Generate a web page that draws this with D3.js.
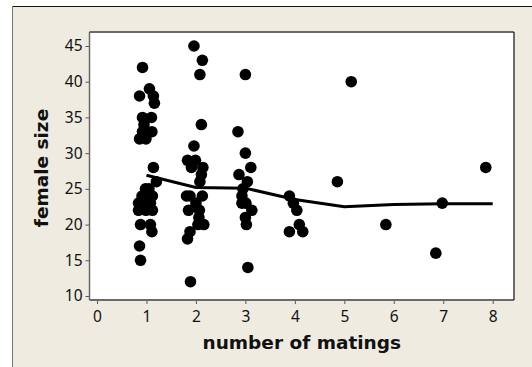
<!DOCTYPE html>
<html><head><meta charset="utf-8">
<script src="https://cdn.jsdelivr.net/npm/d3@7"></script>
<style>
html,body{margin:0;padding:0;background:#fff;}
svg{display:block;}
</style></head>
<body>
<script>
// ---- data ----
const matings = [
  0.92,0.86,1.06,1.14,1.16,0.92,1.10,0.95,0.92,1.11,0.86,0.99,
  1.14,1.20,0.98,1.05,0.91,1.12,0.84,0.98,1.08,0.84,0.99,1.12,0.88,1.08,1.11,0.86,0.88,
  1.96,2.13,2.08,2.11,1.96,1.83,1.99,1.91,2.14,2.11,2.08,1.81,1.88,2.13,2.00,1.85,2.07,2.06,2.04,2.16,1.88,1.83,1.89,
  3.00,2.85,3.00,3.11,2.87,3.04,2.95,2.93,2.93,3.01,3.13,3.00,3.02,3.05,
  3.89,3.97,4.04,4.09,3.89,4.16,
  4.86,5.14,
  5.84,
  6.85,6.98,
  7.86
];
const femaleSize = [
  42,38,39,38,37,35,35,34,33,33,32,32,
  28,26,25,25,24,24,23,23,23,22,22,22,20,20,19,17,15,
  45,43,41,34,31,29,29,28,28,27,26,24,24,24,23,22,22,21,20,20,19,18,12,
  41,33,30,28,27,26,25,24,23,23,22,21,20,14,
  24,23,22,20,19,19,
  26,40,
  20,
  16,23,
  28
];
const trendX = [1,2,3,4,5,6,7,8];
const trendY = [26.9,25.2,25.1,23.5,22.5,22.8,22.9,22.9];
const xTicks = [0,1,2,3,4,5,6,7,8];
const yTicks = [10,15,20,25,30,35,40,45];

// ---- layout ----
const W = 532, H = 367;
const frame = {left: 89.5, right: 514, top: 32, bottom: 300};

const svg = d3.select("body").append("svg").attr("width", W).attr("height", H);

// outer panel
svg.append("rect").attr("x",12).attr("y",6).attr("width",W-12).attr("height",H-6).attr("fill","#efebe1");
svg.append("line").attr("x1",12).attr("x2",W).attr("y1",6.5).attr("y2",6.5).attr("stroke","#111").attr("stroke-width",1.2);
svg.append("line").attr("x1",12.5).attr("x2",12.5).attr("y1",6).attr("y2",H).attr("stroke","#777").attr("stroke-width",1);

const x = d3.scaleLinear().domain([0,8]).range([97,492.7]);
const y = d3.scaleLinear().domain([10,45]).range([296,46]);

// plot area
svg.append("rect").attr("x",frame.left).attr("y",frame.top)
  .attr("width",frame.right-frame.left).attr("height",frame.bottom-frame.top).attr("fill","#fff");

// axes
const tickFont = "'Noto Sans', 'Liberation Sans', sans-serif";
const yAxis = d3.axisLeft(y).tickValues(yTicks).tickSize(4).tickPadding(3);
const gy = svg.append("g").attr("transform",`translate(${frame.left},0)`).call(yAxis);
const xAxis = d3.axisBottom(x).tickValues(xTicks).tickSize(4).tickPadding(7);
const gx = svg.append("g").attr("transform",`translate(0,${frame.bottom})`).call(xAxis);
[gx,gy].forEach(g=>{
  g.select(".domain").remove();
  g.selectAll(".tick line").attr("stroke","#555");
  g.selectAll(".tick text").attr("fill","#111").style("font-family",tickFont).style("font-size","15.5px");
});

// frame border
svg.append("line").attr("x1",frame.left).attr("x2",frame.right).attr("y1",frame.top).attr("y2",frame.top).attr("stroke","#6a6a6a").attr("stroke-width",2);
svg.append("line").attr("x1",frame.left).attr("x2",frame.right).attr("y1",frame.bottom).attr("y2",frame.bottom).attr("stroke","#6a6a6a").attr("stroke-width",2);
svg.append("line").attr("x1",frame.left).attr("x2",frame.left).attr("y1",frame.top).attr("y2",frame.bottom).attr("stroke","#6a6a6a").attr("stroke-width",1.5);
svg.append("line").attr("x1",frame.right).attr("x2",frame.right).attr("y1",frame.top).attr("y2",frame.bottom).attr("stroke","#111").attr("stroke-width",1.2);

// trend line
const line = d3.line().x((d,i)=>x(trendX[i])).y(d=>y(d));
svg.append("path").datum(trendY).attr("d",line).attr("fill","none").attr("stroke","#000").attr("stroke-width",3);

// points
svg.append("g").selectAll("circle").data(femaleSize).join("circle")
  .attr("cx",(d,i)=>x(matings[i])).attr("cy",d=>y(d)).attr("r",5.8).attr("fill","#000");

// titles
const titleFont = "'DejaVu Sans', Verdana, sans-serif";
svg.append("text").attr("x",(frame.left+frame.right)/2).attr("y",349)
  .attr("text-anchor","middle").style("font-family",titleFont).style("font-weight","bold").style("font-size","18.5px")
  .attr("fill","#111").text("number of matings");
svg.append("text").attr("transform","translate(48,168) rotate(-90)")
  .attr("text-anchor","middle").style("font-family",titleFont).style("font-weight","bold").style("font-size","18.5px")
  .attr("fill","#111").text("female size");
</script>
</body></html>
